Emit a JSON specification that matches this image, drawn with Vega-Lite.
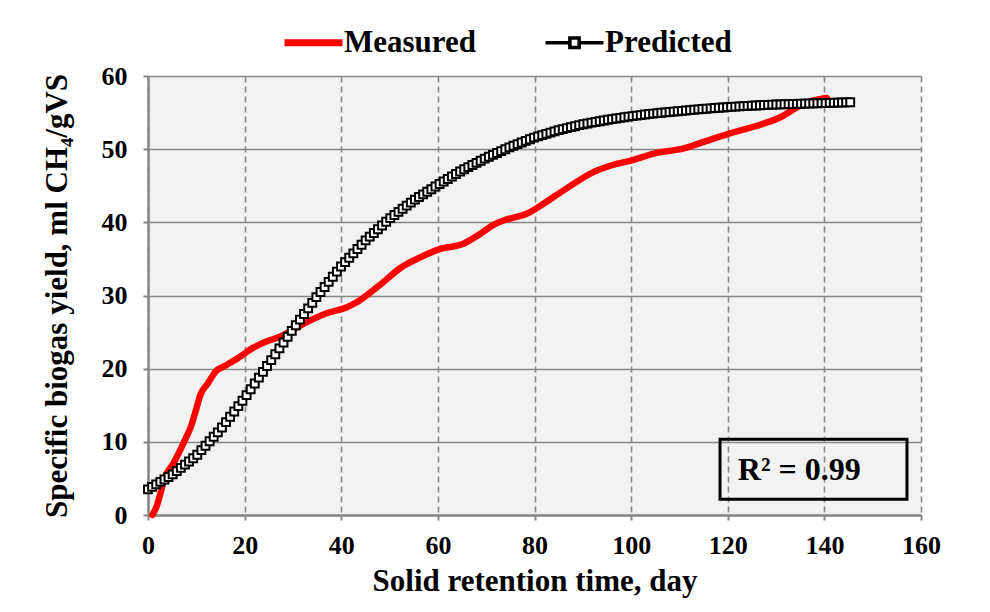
{
  "$schema": "https://vega.github.io/schema/vega-lite/v6.json",
  "width": 773,
  "height": 439,
  "autosize": "none",
  "padding": {"left": 148, "top": 76, "right": 69, "bottom": 97},
  "background": "#ffffff",
  "config": {
    "view": {"fill": "#f2f2f2", "stroke": null},
    "font": "Liberation Serif",
    "axis": {
      "labelFont": "Liberation Serif", "labelFontWeight": "bold", "labelFontSize": 26, "labelColor": "#000000",
      "titleFont": "Liberation Serif", "titleFontWeight": "bold", "titleFontSize": 31, "titleColor": "#000000",
      "domainColor": "#878787", "domainWidth": 2.5, "tickColor": "#878787", "tickSize": 5, "tickWidth": 2,
      "gridColor": "#878787", "gridWidth": 1.6
    }
  },
  "datasets": {
    "measured": [
      {"t": 0.9, "y": 0}, {"t": 1.8, "y": 1.2}, {"t": 2.6, "y": 3.0}, {"t": 3.3, "y": 4.8}, {"t": 5.3, "y": 7.1},
      {"t": 7.4, "y": 9.9}, {"t": 9.0, "y": 12.3}, {"t": 10.0, "y": 14.5}, {"t": 10.9, "y": 16.5}, {"t": 12.3, "y": 17.9},
      {"t": 14.0, "y": 19.6}, {"t": 16.0, "y": 20.4}, {"t": 18.5, "y": 21.4}, {"t": 21.9, "y": 22.9}, {"t": 24.5, "y": 23.7},
      {"t": 27.4, "y": 24.4}, {"t": 30.5, "y": 25.5}, {"t": 33.6, "y": 26.6}, {"t": 37.1, "y": 27.6}, {"t": 41.2, "y": 28.4},
      {"t": 43.0, "y": 29.0}, {"t": 45.4, "y": 30.1}, {"t": 48.5, "y": 31.7}, {"t": 52.3, "y": 33.8}, {"t": 56.0, "y": 35.1},
      {"t": 60.2, "y": 36.3}, {"t": 65.4, "y": 37.1}, {"t": 68.5, "y": 38.3}, {"t": 71.6, "y": 39.7}, {"t": 74.3, "y": 40.4},
      {"t": 78.5, "y": 41.2}, {"t": 82.0, "y": 42.6}, {"t": 86.1, "y": 44.4}, {"t": 92.3, "y": 46.9}, {"t": 96.0, "y": 47.8},
      {"t": 100.3, "y": 48.5}, {"t": 104.7, "y": 49.4}, {"t": 110.9, "y": 50.1}, {"t": 115.5, "y": 51.1}, {"t": 120.1, "y": 52.1},
      {"t": 127.5, "y": 53.5}, {"t": 131.0, "y": 54.4}, {"t": 135.1, "y": 56.0}, {"t": 138.0, "y": 56.7}, {"t": 140.5, "y": 57.0}
    ],
    "predicted": [
      {"t":0,"y":3.5},{"t":0.85,"y":3.84},{"t":1.7,"y":4.18},{"t":2.55,"y":4.52},{"t":3.4,"y":4.86},{"t":4.25,"y":5.2},
      {"t":5.1,"y":5.55},{"t":5.95,"y":5.99},{"t":6.8,"y":6.44},{"t":7.65,"y":6.88},{"t":8.5,"y":7.32},{"t":9.35,"y":7.76},
      {"t":10.2,"y":8.24},{"t":11.05,"y":8.86},{"t":11.9,"y":9.47},{"t":12.75,"y":10.08},{"t":13.6,"y":10.69},{"t":14.45,"y":11.3},
      {"t":15.3,"y":11.96},{"t":16.15,"y":12.69},{"t":17.0,"y":13.42},{"t":17.85,"y":14.15},{"t":18.7,"y":14.88},{"t":19.55,"y":15.61},
      {"t":20.4,"y":16.38},{"t":21.25,"y":17.18},{"t":22.1,"y":17.97},{"t":22.95,"y":18.77},{"t":23.8,"y":19.57},{"t":24.65,"y":20.37},
      {"t":25.5,"y":21.17},{"t":26.35,"y":21.97},{"t":27.2,"y":22.77},{"t":28.05,"y":23.57},{"t":28.9,"y":24.37},{"t":29.75,"y":25.17},
      {"t":30.6,"y":25.94},{"t":31.45,"y":26.71},{"t":32.3,"y":27.47},{"t":33.15,"y":28.24},{"t":34.0,"y":29.0},{"t":34.85,"y":29.77},
      {"t":35.7,"y":30.47},{"t":36.55,"y":31.17},{"t":37.4,"y":31.87},{"t":38.25,"y":32.57},{"t":39.1,"y":33.26},{"t":39.95,"y":33.96},
      {"t":40.8,"y":34.56},{"t":41.65,"y":35.16},{"t":42.5,"y":35.75},{"t":43.35,"y":36.35},{"t":44.2,"y":36.94},{"t":45.05,"y":37.53},
      {"t":45.9,"y":38.04},{"t":46.75,"y":38.55},{"t":47.6,"y":39.06},{"t":48.45,"y":39.57},{"t":49.3,"y":40.08},{"t":50.15,"y":40.58},
      {"t":51.0,"y":41.0},{"t":51.85,"y":41.43},{"t":52.7,"y":41.85},{"t":53.55,"y":42.28},{"t":54.4,"y":42.7},{"t":55.25,"y":43.11},
      {"t":56.1,"y":43.46},{"t":56.95,"y":43.82},{"t":57.8,"y":44.18},{"t":58.65,"y":44.53},{"t":59.5,"y":44.89},{"t":60.35,"y":45.24},
      {"t":61.2,"y":45.58},{"t":62.05,"y":45.92},{"t":62.9,"y":46.26},{"t":63.75,"y":46.6},{"t":64.6,"y":46.94},{"t":65.45,"y":47.25},
      {"t":66.3,"y":47.54},{"t":67.15,"y":47.83},{"t":68.0,"y":48.12},{"t":68.85,"y":48.41},{"t":69.7,"y":48.7},{"t":70.55,"y":48.97},
      {"t":71.4,"y":49.22},{"t":72.25,"y":49.48},{"t":73.1,"y":49.73},{"t":73.95,"y":49.99},{"t":74.8,"y":50.24},{"t":75.65,"y":50.47},
      {"t":76.5,"y":50.69},{"t":77.35,"y":50.91},{"t":78.2,"y":51.13},{"t":79.05,"y":51.35},{"t":79.9,"y":51.57},{"t":80.75,"y":51.75},
      {"t":81.6,"y":51.92},{"t":82.45,"y":52.09},{"t":83.3,"y":52.26},{"t":84.15,"y":52.43},{"t":85.0,"y":52.6},{"t":85.85,"y":52.74},
      {"t":86.7,"y":52.87},{"t":87.55,"y":53.01},{"t":88.4,"y":53.14},{"t":89.25,"y":53.28},{"t":90.1,"y":53.41},{"t":90.95,"y":53.51},
      {"t":91.8,"y":53.62},{"t":92.65,"y":53.72},{"t":93.5,"y":53.82},{"t":94.35,"y":53.92},{"t":95.2,"y":54.02},{"t":96.05,"y":54.11},
      {"t":96.9,"y":54.19},{"t":97.75,"y":54.28},{"t":98.6,"y":54.36},{"t":99.45,"y":54.45},{"t":100.3,"y":54.52},{"t":101.15,"y":54.59},
      {"t":102.0,"y":54.66},{"t":102.85,"y":54.73},{"t":103.7,"y":54.8},{"t":104.55,"y":54.86},{"t":105.4,"y":54.92},{"t":106.25,"y":54.98},
      {"t":107.1,"y":55.03},{"t":107.95,"y":55.08},{"t":108.8,"y":55.13},{"t":109.65,"y":55.18},{"t":110.5,"y":55.23},{"t":111.35,"y":55.28},
      {"t":112.2,"y":55.33},{"t":113.05,"y":55.38},{"t":113.9,"y":55.43},{"t":114.75,"y":55.49},{"t":115.6,"y":55.53},{"t":116.45,"y":55.57},
      {"t":117.3,"y":55.62},{"t":118.15,"y":55.66},{"t":119.0,"y":55.7},{"t":119.85,"y":55.74},{"t":120.7,"y":55.78},{"t":121.55,"y":55.81},
      {"t":122.4,"y":55.85},{"t":123.25,"y":55.88},{"t":124.1,"y":55.91},{"t":124.95,"y":55.95},{"t":125.8,"y":55.97},{"t":126.65,"y":56.0},
      {"t":127.5,"y":56.03},{"t":128.35,"y":56.05},{"t":129.2,"y":56.08},{"t":130.05,"y":56.1},{"t":130.9,"y":56.12},{"t":131.75,"y":56.14},
      {"t":132.6,"y":56.15},{"t":133.45,"y":56.17},{"t":134.3,"y":56.19},{"t":135.15,"y":56.2},{"t":136.0,"y":56.22},{"t":136.85,"y":56.24},
      {"t":137.7,"y":56.25},{"t":138.55,"y":56.27},{"t":139.4,"y":56.29},{"t":140.25,"y":56.3},{"t":141.1,"y":56.32},{"t":141.95,"y":56.34},
      {"t":142.8,"y":56.36},{"t":143.65,"y":56.37},{"t":144.5,"y":56.39},{"t":145.35,"y":56.41}
    ],
    "note": [{"x1": 118.4, "x2": 157.1, "y1": 2.14, "y2": 10.34, "xt": 134.8, "yt": 6.2, "label": "R² = 0.99"}]
  },
  "layer": [
    {
      "data": {"name": "measured"},
      "mark": {"type": "line", "strokeWidth": 6.5, "interpolate": "monotone", "strokeCap": "round", "strokeJoin": "round"},
      "encoding": {
        "x": {"field": "t", "type": "quantitative",
              "scale": {"domain": [0, 160], "nice": false},
              "axis": {"values": [0, 20, 40, 60, 80, 100, 120, 140, 160], "title": "Solid retention time, day",
                       "gridDash": [6, 4], "labelPadding": 12, "titlePadding": 8, "labelFlush": false}},
        "y": {"field": "y", "type": "quantitative",
              "scale": {"domain": [0, 60], "nice": false},
              "axis": {"values": [0, 10, 20, 30, 40, 50, 60], "title": "Specific biogas yield, ml CH₄/gVS",
                       "labelPadding": 16, "titlePadding": 28}},
        "color": {"datum": "Measured", "type": "nominal",
                  "scale": {"domain": ["Measured", "Predicted"], "range": ["#ff0000", "#000000"]},
                  "legend": {
                    "title": null, "orient": "none", "legendX": 137, "legendY": -49, "direction": "horizontal",
                    "symbolType": "stroke", "symbolSize": 3364, "symbolStrokeWidth": 7, "symbolOffset": 13,
                    "labelFont": "Liberation Serif", "labelFontWeight": "bold", "labelFontSize": 31, "labelColor": "#000000",
                    "labelOffset": 15, "columnPadding": 61,
                    "encode": {"symbols": {"update": {
                      "shape": {"signal": "datum.value === 'Predicted' ? 'M-1,0H-0.16M0.16,0H1M-0.16,-0.16H0.16V0.16H-0.16Z' : 'stroke'"},
                      "fill": {"signal": "datum.value === 'Predicted' ? '#ffffff' : 'transparent'"},
                      "strokeWidth": {"signal": "datum.value === 'Predicted' ? 3.5 : 7"}
                    }}}
                  }}
      }
    },
    {
      "data": {"name": "predicted"},
      "mark": {"type": "line", "strokeWidth": 2},
      "encoding": {
        "x": {"field": "t", "type": "quantitative"},
        "y": {"field": "y", "type": "quantitative"},
        "color": {"datum": "Predicted", "type": "nominal"}
      }
    },
    {
      "data": {"name": "predicted"},
      "mark": {"type": "point", "shape": "square", "filled": true, "fill": "#ffffff", "stroke": "#000000", "strokeWidth": 2, "size": 62, "opacity": 1},
      "encoding": {
        "x": {"field": "t", "type": "quantitative"},
        "y": {"field": "y", "type": "quantitative"}
      }
    },
    {
      "data": {"name": "note"},
      "mark": {"type": "rect", "fill": null, "fillOpacity": 0, "stroke": "#000000", "strokeWidth": 3},
      "encoding": {
        "x": {"field": "x1", "type": "quantitative"},
        "x2": {"field": "x2"},
        "y": {"field": "y1", "type": "quantitative"},
        "y2": {"field": "y2"}
      }
    },
    {
      "data": {"name": "note"},
      "mark": {"type": "text", "font": "Liberation Serif", "fontWeight": "bold", "fontSize": 32, "color": "#000000", "align": "center", "baseline": "middle"},
      "encoding": {
        "x": {"field": "xt", "type": "quantitative"},
        "y": {"field": "yt", "type": "quantitative"},
        "text": {"field": "label"}
      }
    }
  ]
}
